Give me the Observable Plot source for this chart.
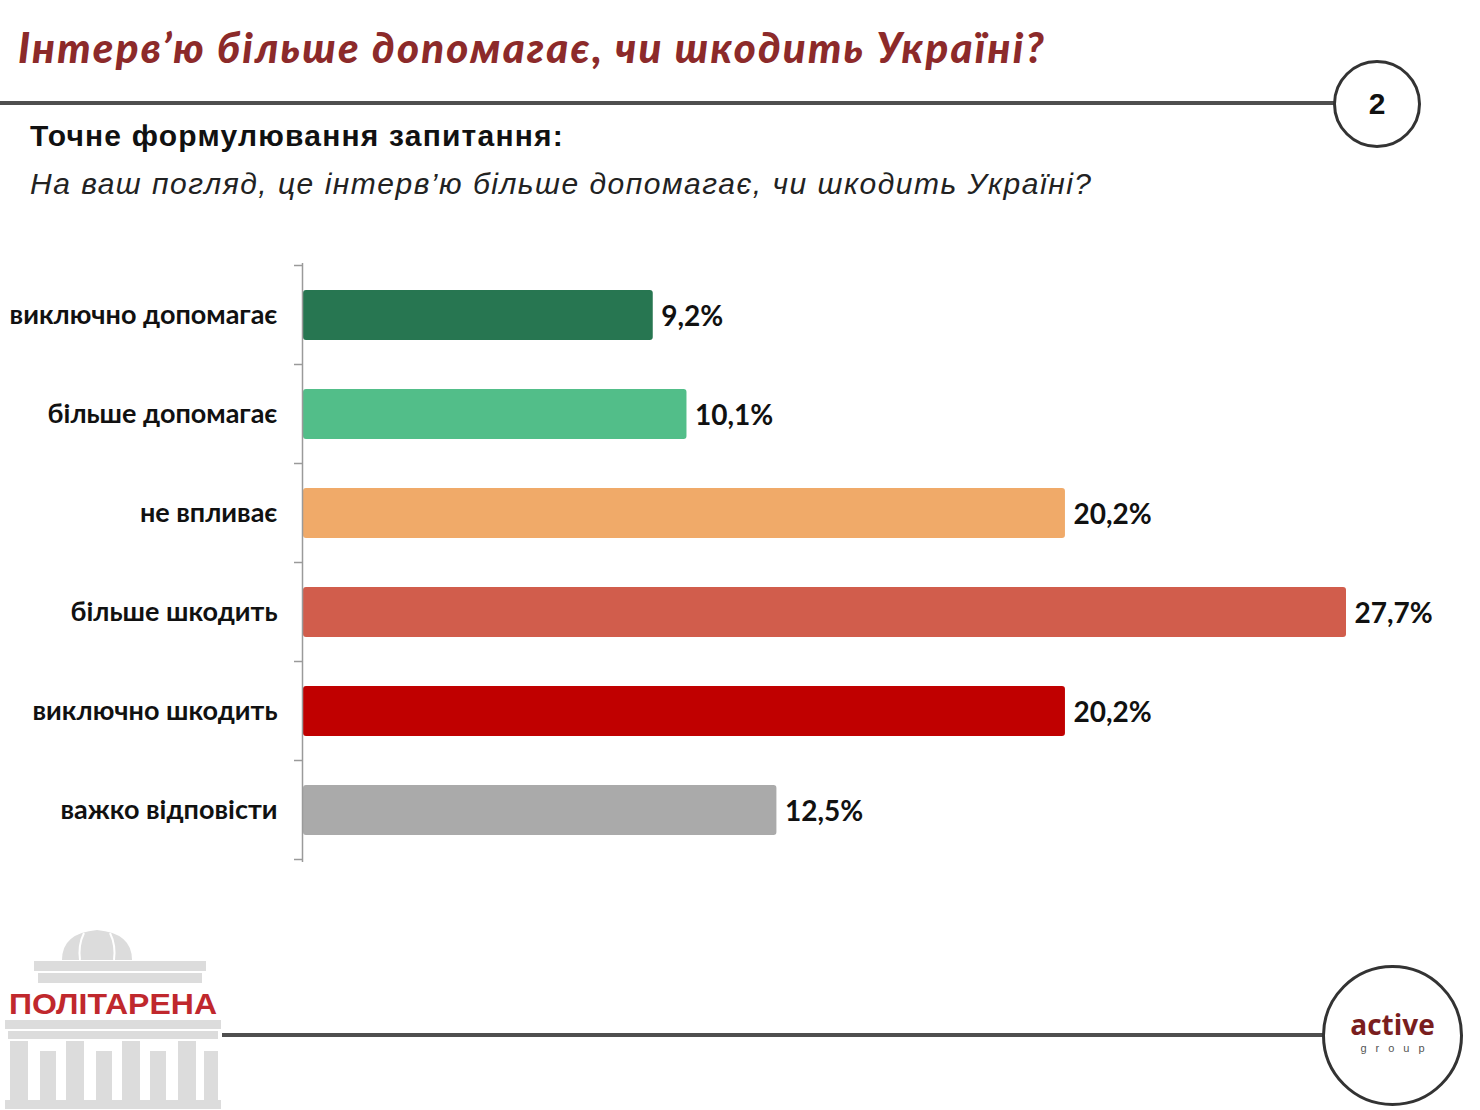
<!DOCTYPE html>
<html>
<head>
<meta charset="utf-8">
<script src="https://cdn.jsdelivr.net/npm/d3@7"></script>
<script src="https://cdn.jsdelivr.net/npm/@observablehq/plot@0.6"></script>
<style>
  html, body { margin: 0; padding: 0; background: #fff; }
  body { width: 1480px; height: 1110px; position: relative; overflow: hidden; font-family: "Liberation Sans", Arial, sans-serif; }
  .abs { position: absolute; }
  #title { left: 18px; top: 22px; font-family: Lato, sans-serif; font-weight: 900; font-style: italic; font-size: 42px; letter-spacing: 2.2px; color: #8c2a2a; white-space: nowrap; }
  #topline { left: 0; top: 101px; width: 1336px; height: 4px; background: #4f4f4f; }
  #pagecircle { left: 1333px; top: 60px; width: 88px; height: 88px; border: 3px solid #333; border-radius: 50%; box-sizing: border-box; background: #fff; display: flex; align-items: center; justify-content: center; font-weight: bold; font-size: 30px; color: #111; }
  #sub1 { left: 30px; top: 119px; font-weight: bold; font-size: 30px; letter-spacing: 1.2px; color: #111; white-space: nowrap; }
  #sub2 { left: 30px; top: 167px; font-style: italic; font-size: 30px; letter-spacing: 1.5px; color: #222; white-space: nowrap; }
  #chart { left: 0; top: 253px; }
  #botline { left: 222px; top: 1033px; width: 1102px; height: 4px; background: #4f4f4f; }
  #logocircle { left: 1322px; top: 965px; width: 141px; height: 141px; border: 3px solid #333; border-radius: 50%; box-sizing: border-box; background: #fff; }
  #active { left: 1322px; width: 141px; top: 1008px; text-align: center; font-family: "Open Sans", sans-serif; font-weight: bold; font-size: 28px; color: #7a1e1e; line-height: 32px; }
  #group { left: 1322px; width: 141px; top: 1042px; text-align: center; font-size: 11px; letter-spacing: 9px; padding-left: 9px; box-sizing: border-box; color: #555; }
  #politarena { left: 0; top: 925px; }
</style>
</head>
<body>
<div id="title" class="abs">Інтерв’ю більше допомагає, чи шкодить Україні?</div>
<div id="topline" class="abs"></div>
<div id="pagecircle" class="abs">2</div>
<div id="sub1" class="abs">Точне формулювання запитання:</div>
<div id="sub2" class="abs">На ваш погляд, це інтерв’ю більше допомагає, чи шкодить Україні?</div>
<div id="chart" class="abs"></div>
<svg id="politarena" class="abs" width="230" height="185" viewBox="0 0 230 185">
  <g fill="#dcdcdc">
    <path d="M62 35 Q62 8 97 5 Q132 8 132 35 Z"/>
    <rect x="34" y="36" width="172" height="10"/>
    <rect x="38" y="48" width="164" height="10"/>
    <rect x="5" y="95" width="216" height="9"/>
    <rect x="8" y="106" width="210" height="8"/>
    <rect x="10" y="116" width="18" height="60"/>
    <rect x="40" y="126" width="16" height="50"/>
    <rect x="66" y="116" width="18" height="60"/>
    <rect x="96" y="126" width="16" height="50"/>
    <rect x="122" y="116" width="18" height="60"/>
    <rect x="150" y="126" width="16" height="50"/>
    <rect x="178" y="116" width="18" height="60"/>
    <rect x="204" y="126" width="14" height="50"/>
    <rect x="5" y="175" width="216" height="9"/>
  </g>
  <path d="M84 8 Q78 20 80 35 M110 8 Q116 20 114 35" stroke="#fff" stroke-width="2" fill="none"/>
  <text x="113" y="89" text-anchor="middle" font-family="Liberation Sans, Arial" font-weight="bold" font-size="30" fill="#c0282d" textLength="208" lengthAdjust="spacingAndGlyphs">ПОЛІТАРЕНА</text>
</svg>
<div id="botline" class="abs"></div>
<div id="logocircle" class="abs"></div>
<div id="active" class="abs">active</div>
<div id="group" class="abs">group</div>
<script>
const categories = ["виключно допомагає", "більше допомагає", "не впливає", "більше шкодить", "виключно шкодить", "важко відповісти"];
const values = [9.2, 10.1, 20.2, 27.7, 20.2, 12.5];
const valueLabels = ["9,2%", "10,1%", "20,2%", "27,7%", "20,2%", "12,5%"];
const barColors = ["#277651", "#52be89", "#f0aa69", "#d15d4c", "#c00000", "#aaaaaa"];

const data = categories.map((c, i) => ({category: c, value: values[i], label: valueLabels[i]}));

const plot = Plot.plot({
  width: 1480,
  height: 620,
  marginLeft: 308,
  marginRight: 134,
  marginTop: 10,
  marginBottom: 11,
  style: {fontFamily: "Lato, sans-serif", background: "transparent", overflow: "visible"},
  x: {domain: [0, 27.7], axis: null},
  y: {domain: categories, paddingInner: 0.5, paddingOuter: 0.25, label: null},
  color: {domain: categories, range: barColors},
  marks: [
    Plot.barX(data, {x: "value", y: "category", fill: "category", rx: 3, insetLeft: -5,
      style: "filter: drop-shadow(1px 2px 1px rgba(0,0,0,0.22))"}),
    Plot.ruleX([0], {stroke: "#9a9a9a", strokeWidth: 1.5, dx: -6}),
    Plot.axisY({tickSize: 0, tickPadding: 31, fontSize: 27, fontWeight: "bold", fill: "#111", label: null}),
    Plot.text(data, {x: "value", y: "category", text: "label", dx: 8, dy: 2, textAnchor: "start",
      fontSize: 28, fontWeight: "bold", fill: "#111"})
  ]
});

// tick marks at band-slot boundaries, from the library's y scale
const ys = plot.scale("y");
const gap = (ys.step - ys.bandwidth) / 2;
const bounds = categories.map(c => ys.apply(c) - gap);
bounds.push(ys.apply(categories[categories.length - 1]) + ys.bandwidth + gap);
const x0 = plot.scale("x").apply(0) - 6;
d3.select(plot).append("g")
  .selectAll("line").data(bounds).join("line")
  .attr("x1", x0 - 8).attr("x2", x0)
  .attr("y1", d => d).attr("y2", d => d)
  .attr("stroke", "#9a9a9a").attr("stroke-width", 1.5);

document.getElementById("chart").appendChild(plot);
</script>
</body>
</html>
